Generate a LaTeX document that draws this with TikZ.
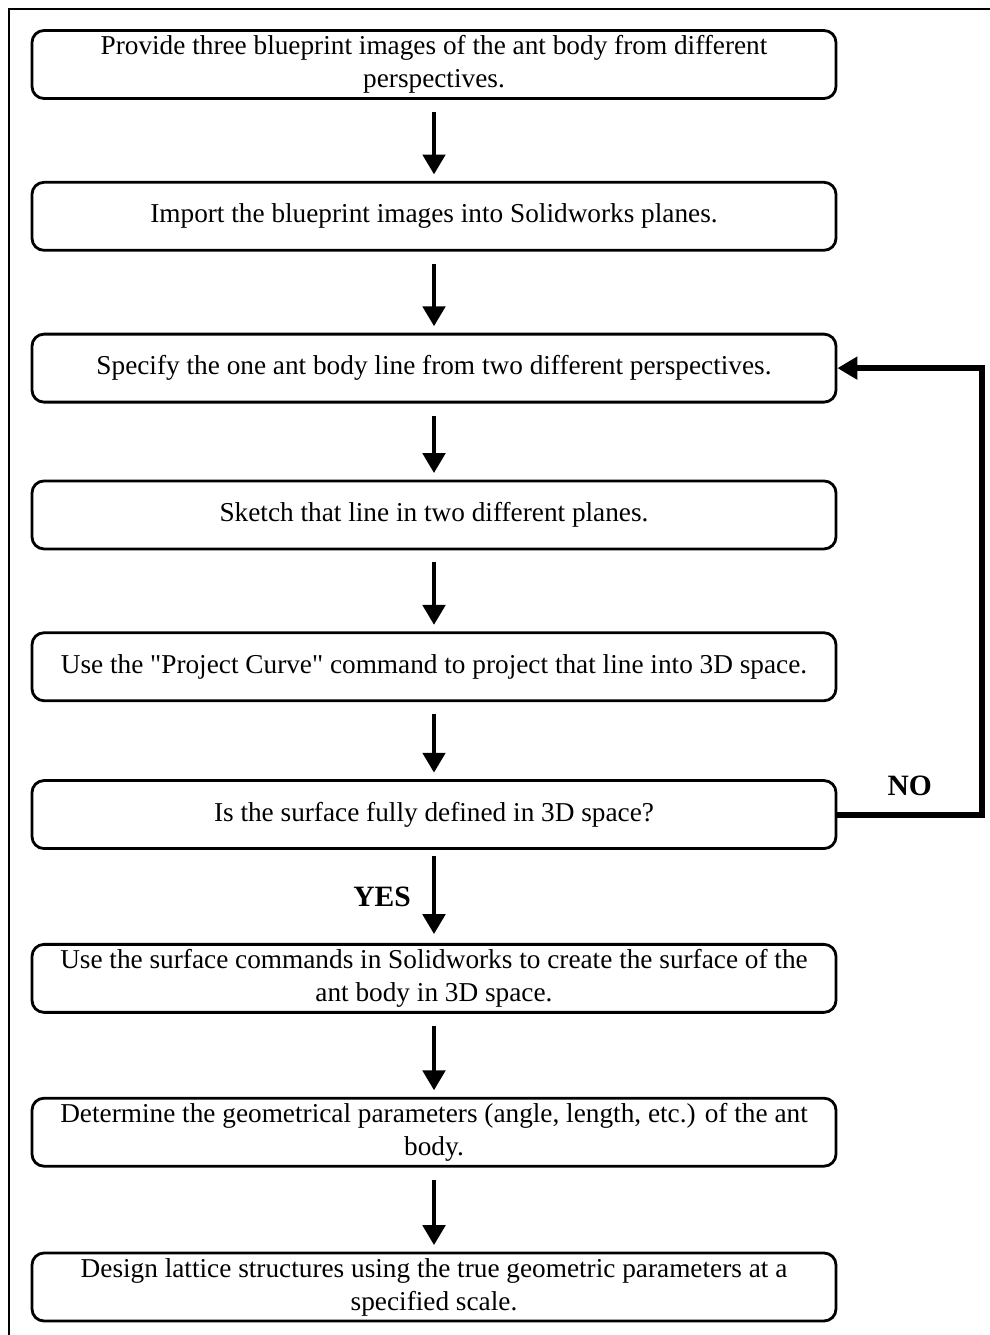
\documentclass[tikz,border=0pt]{standalone}
\usepackage{fontspec}
\setmainfont{Liberation Serif}
\usetikzlibrary{arrows.meta,positioning}
\tikzset{
  fbox/.style={draw,line width=2pt,rounded corners=3mm,align=center,
    minimum width=20.1cm,minimum height=1.7cm,inner sep=1pt,
    font=\fontsize{19.4}{23.5}\selectfont},
  fflow/.style={-{Triangle[width=5.5mm,length=5mm]},line width=3.5pt,
    shorten <=3mm,shorten >=1.6mm},
  floop/.style={-{Triangle[width=5.5mm,length=5mm]},line width=4.3pt},
  flabel/.style={font=\fontsize{21}{24}\selectfont\bfseries},
}

\begin{document}
\begin{tikzpicture}
\useasboundingbox (0,0) rectangle (24.75,-33.375);
% frame
\draw[line width=2pt] (0.225,-33.375) -- (0.225,-0.225) -- (24.75,-0.225);

\node[fbox] (b1) at (10.85,-1.6125) {Provide three blueprint images of the ant body from different\\perspectives.};
\node[fbox,below=2.025cm of b1] (b2) {Import the blueprint images into Solidworks planes.};
\node[fbox,below=2.025cm of b2] (b3) {Specify the one ant body line from two different perspectives.};
\node[fbox,below=1.9cm of b3] (b4) {Sketch that line in two different planes.};
\node[fbox,below=2.025cm of b4] (b5) {Use the \textquotedbl Project Curve\textquotedbl{} command to project that line into 3D space.};
\node[fbox,below=1.925cm of b5] (b6) {Is the surface fully defined in 3D space?};
\node[fbox,below=2.325cm of b6] (b7) {Use the surface commands in Solidworks to create the surface of the\\ant body in 3D space.};
\node[fbox,below=2.075cm of b7] (b8) {Determine the geometrical parameters (angle, length, etc.) of the ant\\body.};
\node[fbox,below=2.1cm of b8] (b9) {Design lattice structures using the true geometric parameters at a\\specified scale.};

\draw[fflow] (b1) -- (b2);
\draw[fflow] (b2) -- (b3);
\draw[fflow] (b3) -- (b4);
\draw[fflow] (b4) -- (b5);
\draw[fflow] (b5) -- (b6);
\draw[fflow,shorten <=1.5mm,shorten >=2.2mm] (b6) -- node[flabel,left=4mm] (yes) {YES} (b7);
\draw[fflow] (b7) -- (b8);
\draw[fflow] (b8) -- (b9);

% loop back
\coordinate (cr) at (24.55,0);
\draw[floop] (b6.east) -- node[flabel,above=8pt] (no) {NO} (b6.east -| cr) |- (b3.east);
\end{tikzpicture}
\end{document}
